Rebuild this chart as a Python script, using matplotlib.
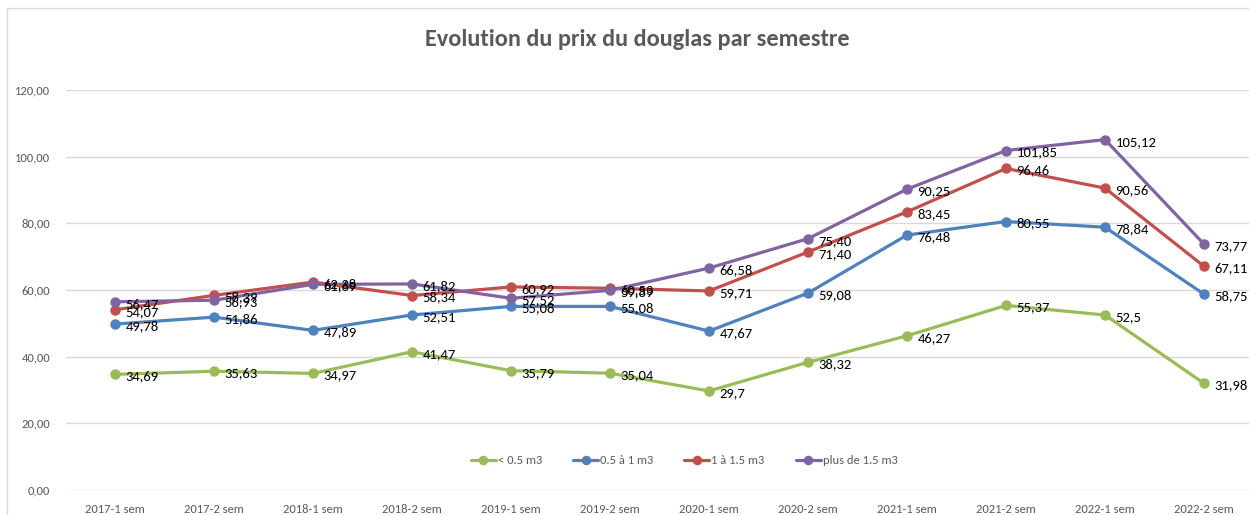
import matplotlib
matplotlib.use("Agg")
import matplotlib.pyplot as plt
from matplotlib.patches import Rectangle

plt.rcParams['font.family'] = ['Carlito', 'DejaVu Sans']

# data (format français)
semestres = ['2017-1 sem', '2017-2 sem', '2018-1 sem', '2018-2 sem', '2019-1 sem', '2019-2 sem',
             '2020-1 sem', '2020-2 sem', '2021-1 sem', '2021-2 sem', '2022-1 sem', '2022-2 sem']
moins_05 = ['34,69', '35,63', '34,97', '41,47', '35,79', '35,04', '29,7', '38,32', '46,27', '55,37', '52,5', '31,98']
de_05_a_1 = ['49,78', '51,86', '47,89', '52,51', '55,08', '55,08', '47,67', '59,08', '76,48', '80,55', '78,84', '58,75']
de_1_a_15 = ['54,07', '58,39', '62,38', '58,34', '60,92', '60,53', '59,71', '71,40', '83,45', '96,46', '90,56', '67,11']
plus_15 = ['56,47', '56,93', '61,69', '61,82', '57,52', '59,89', '66,58', '75,40', '90,25', '101,85', '105,12', '73,77']

series = [
    ('< 0.5 m3', moins_05, '#9BBB59'),
    ('0.5 à 1 m3', de_05_a_1, '#4F81BD'),
    ('1 à 1.5 m3', de_1_a_15, '#C0504D'),
    ('plus de 1.5 m3', plus_15, '#8064A2'),
]

W, H = 1249, 515
fig = plt.figure(figsize=(W / 100, H / 100), dpi=100)
fig.patch.set_facecolor('white')

# cadre du graphique
fig.patches.append(Rectangle((7 / W, -0.1), 1.1, 1 - 8 / H + 0.1, transform=fig.transFigure,
                             fill=False, edgecolor='#D9D9D9', linewidth=1))

left, bottom, top = 65.5, 490, 90
ax = fig.add_axes([left / W, (H - bottom) / H, 1 - left / W, (bottom - top) / H])
ax.set_facecolor('none')

x = list(range(len(semestres)))
for name, vals, col in series:
    y = [float(v.replace(',', '.')) for v in vals]
    ax.plot(x, y, color=col, linewidth=2.3, marker='o', markersize=6.5, label=name,
            solid_capstyle='round', clip_on=False, zorder=3)
    for xi, yi, txt in zip(x, y, vals):
        ax.annotate(txt, (xi, yi), xytext=(7.5, -1.5), textcoords='offset points',
                    ha='left', va='center', fontsize=10.5, color='black', zorder=4)

ax.set_ylim(0, 120)
ax.set_xlim(-0.5, -0.5 + (W - left) / 99)
ax.set_yticks(range(0, 121, 20))
ax.set_yticklabels([f'{v},00' for v in range(0, 121, 20)])
ax.set_xticks(x)
ax.set_xticklabels(semestres)
ax.tick_params(axis='both', length=0, labelsize=9, labelcolor='#595959')
ax.tick_params(axis='y', pad=11)
ax.tick_params(axis='x', pad=10)
ax.grid(axis='y', color='#D9D9D9', linewidth=1)
ax.set_axisbelow(True)
for s in ax.spines.values():
    s.set_visible(False)

fig.text(637 / W, 1 - 40 / H, 'Evolution du prix du douglas par semestre', ha='center', va='center',
         fontsize=17.5, fontweight='bold', color='#595959')

leg = ax.legend(loc='center', bbox_to_anchor=((684 - left) / (W - left), (bottom - 461) / (bottom - top)),
                ncol=4, frameon=False, fontsize=9, handlelength=2.0, handletextpad=0.15,
                columnspacing=2.5, markerscale=0.9)
for t in leg.get_texts():
    t.set_color('#595959')

fig.savefig('out.png', dpi=100)
